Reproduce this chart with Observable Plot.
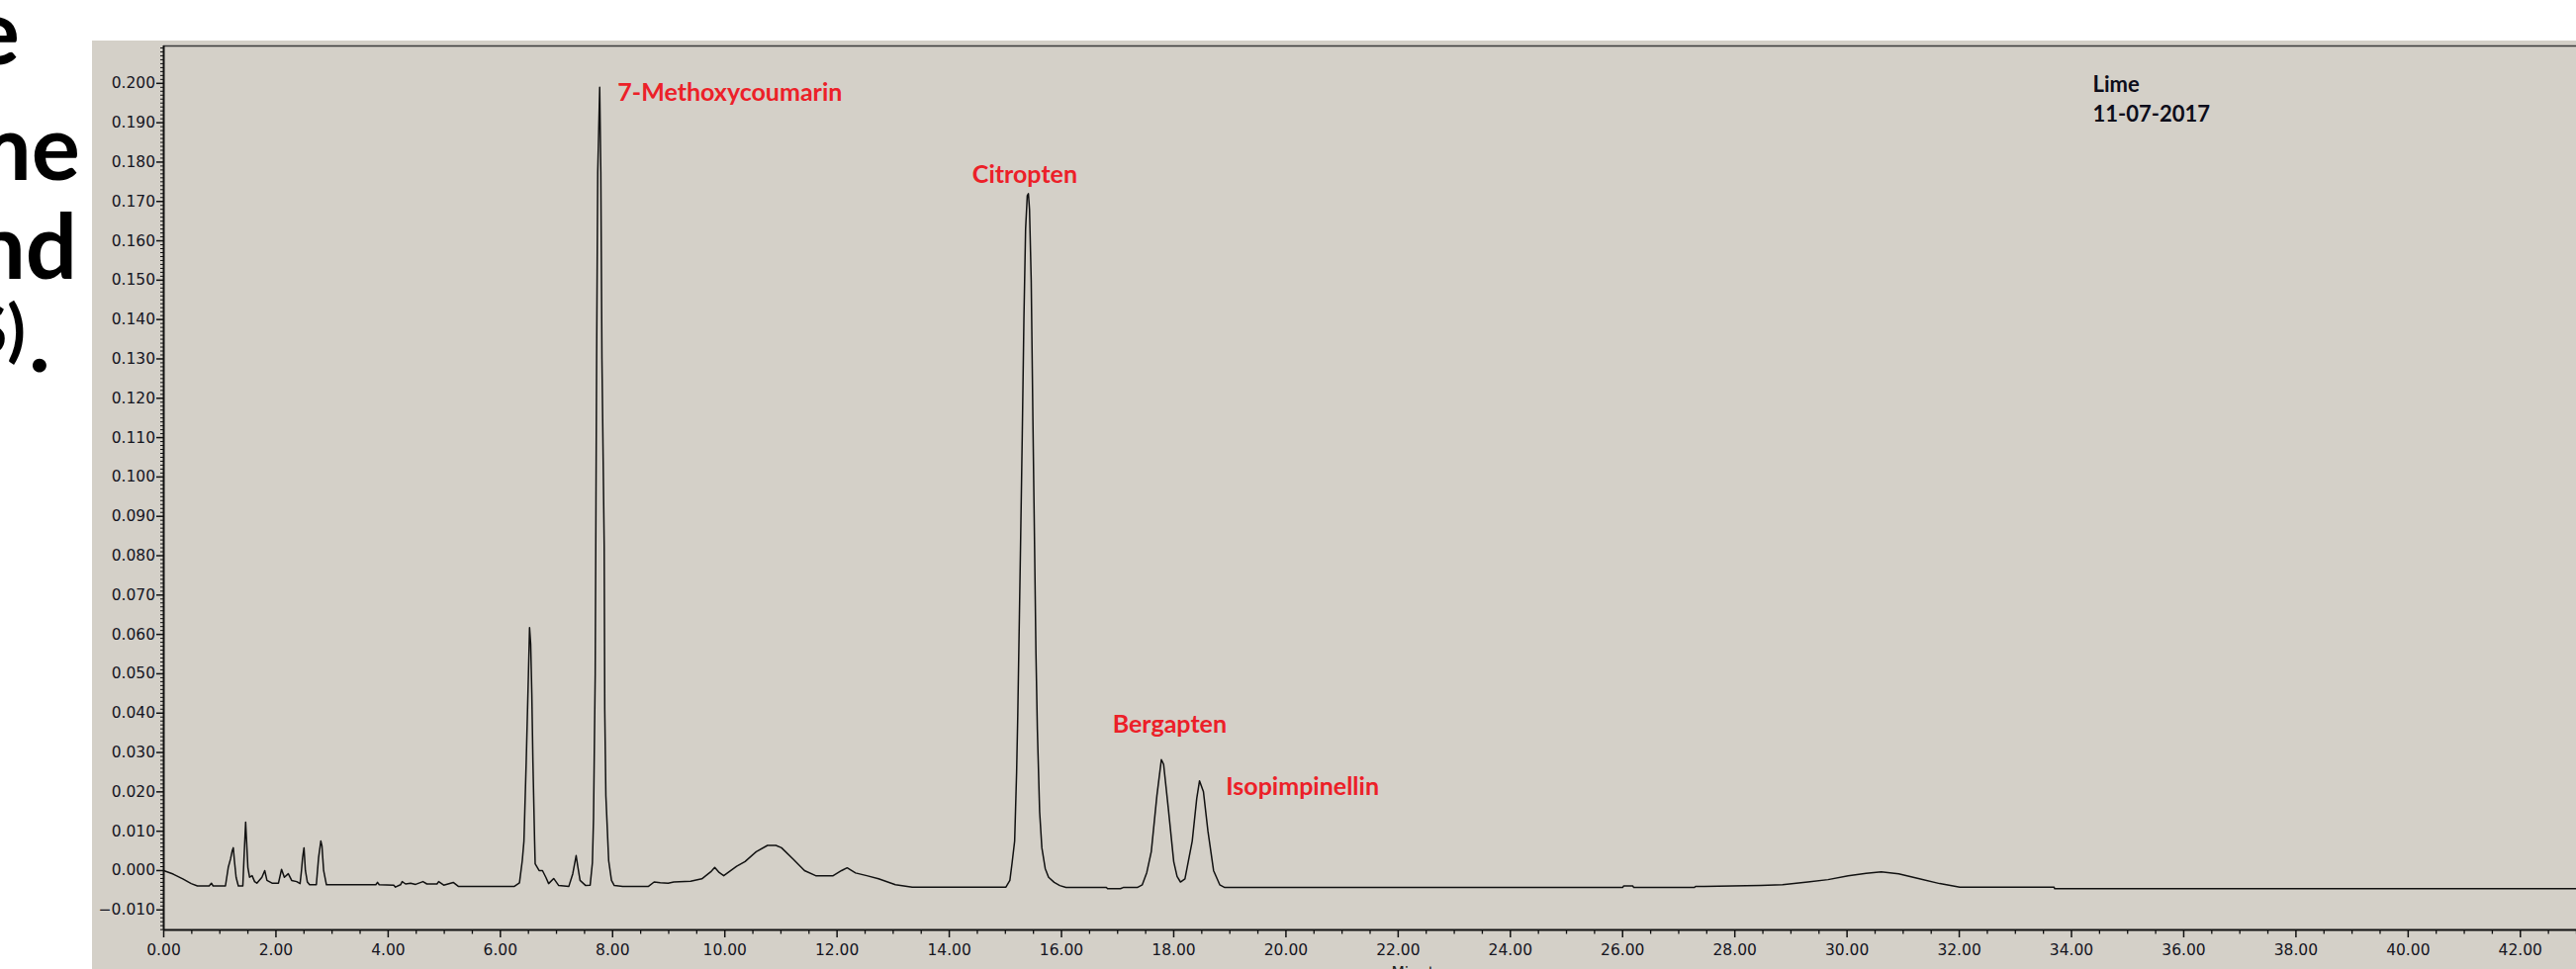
<!DOCTYPE html>
<html>
<head>
<meta charset="utf-8">
<script src="https://cdn.jsdelivr.net/npm/d3@7"></script>
<script src="https://cdn.jsdelivr.net/npm/@observablehq/plot@0.6"></script>
<style>
  html, body { margin: 0; padding: 0; background: #ffffff; width: 2604px; height: 980px; overflow: hidden; }
  #panel { position: absolute; left: 93px; top: 41px; width: 2511px; height: 939px; background: #d4d0c8; overflow: visible; }
  #overlay { position: absolute; left: 0; top: 0; pointer-events: none; }
</style>
</head>
<body>
<div id="panel"></div>
<svg id="overlay" width="2604" height="1000"></svg>
<script>
// ---- Chromatogram trace (retention time in minutes, absorbance in AU) ----
const times = [
  0.00, 0.17, 0.34, 0.49, 0.60, 0.81, 0.85, 0.88, 1.10, 1.15, 1.19, 1.22, 1.24, 1.26, 1.29, 1.33,
  1.41, 1.43, 1.46, 1.475, 1.50, 1.53, 1.575, 1.62, 1.66, 1.75, 1.80, 1.84, 1.93, 2.045, 2.10, 2.15,
  2.22, 2.28, 2.37, 2.43, 2.455, 2.475, 2.50, 2.525, 2.56, 2.60, 2.72, 2.76, 2.80, 2.82, 2.85, 2.90,
  3.78, 3.81, 3.84, 4.10, 4.13, 4.22, 4.25, 4.31, 4.40, 4.49, 4.62, 4.69, 4.87, 4.90, 4.99, 5.16, 5.25,
  6.25, 6.34, 6.39, 6.42, 6.46, 6.50, 6.52, 6.54, 6.56, 6.58, 6.61, 6.62, 6.69, 6.75, 6.81, 6.86, 6.95,
  7.04, 7.22, 7.29, 7.35, 7.38, 7.42, 7.52, 7.60, 7.64, 7.66, 7.69, 7.70, 7.715, 7.735, 7.77, 7.79,
  7.81, 7.85, 7.86, 7.88, 7.93, 7.98, 8.03, 8.18, 8.64, 8.74, 8.85, 8.99, 9.09, 9.39, 9.59, 9.75,
  9.82, 9.90, 9.98, 10.21, 10.36, 10.56, 10.76, 10.91, 11.01, 11.22, 11.42, 11.62, 11.93, 12.08, 12.18,
  12.33, 12.53, 12.74, 13.04, 13.34, 15.01, 15.08, 15.12, 15.165, 15.20, 15.22, 15.25, 15.27, 15.30,
  15.33, 15.36, 15.39, 15.41, 15.43, 15.46, 15.49, 15.52, 15.545, 15.57, 15.61, 15.65, 15.71, 15.77,
  15.87, 15.97, 16.08, 16.80, 16.82, 17.05, 17.10, 17.35, 17.44, 17.52, 17.60, 17.70, 17.78, 17.82,
  17.90, 18.00, 18.06, 18.12, 18.20, 18.33, 18.41, 18.46, 18.53, 18.61, 18.71, 18.82, 18.91, 26.00,
  26.02, 26.18, 26.20, 27.28, 27.30, 27.45, 28.46, 28.85, 29.30, 29.66, 30.02, 30.34, 30.61, 30.92,
  31.29, 31.65, 32.01, 33.69, 33.70, 34.30, 43.00
];
const absorbance = [
  0.0000, -0.0009, -0.0021, -0.0033, -0.0039, -0.0039, -0.0032, -0.0039, -0.0039, 0.0008, 0.0029, 0.0050, 0.0058, 0.0025, -0.0017, -0.0039,
  -0.0039, 0.0029, 0.0123, 0.0080, 0.0008, -0.0017, -0.0013, -0.0028, -0.0032, -0.0017, 0.0000, -0.0025, -0.0032, -0.0032, 0.0003, -0.0017,
  -0.0008, -0.0025, -0.0028, -0.0033, 0.0000, 0.0033, 0.0058, 0.0000, -0.0029, -0.0036, -0.0036, 0.0033, 0.0075, 0.0063, 0.0000, -0.0036,
  -0.0036, -0.0030, -0.0036, -0.0037, -0.0042, -0.0036, -0.0028, -0.0034, -0.0032, -0.0035, -0.0028, -0.0034, -0.0034, -0.0028, -0.0037, -0.0030, -0.0040,
  -0.0040, -0.0031, 0.0025, 0.0075, 0.0275, 0.0500, 0.0617, 0.0576, 0.0450, 0.0275, 0.0075, 0.0017, 0.0000, 0.0000, -0.0017, -0.0033, -0.0020,
  -0.0038, -0.0040, -0.0008, 0.0038, 0.0010, -0.0025, -0.0038, -0.0037, 0.0020, 0.0133, 0.0500, 0.0825, 0.1300, 0.1775, 0.1990, 0.1775,
  0.1300, 0.0825, 0.0410, 0.0190, 0.0025, -0.0025, -0.0038, -0.0040, -0.0040, -0.0029, -0.0031, -0.0032, -0.0029, -0.0027, -0.0021, -0.0003,
  0.0008, -0.0005, -0.0013, 0.0011, 0.0023, 0.0048, 0.0064, 0.0064, 0.0058, 0.0029, 0.0000, -0.0013, -0.0013, 0.0000, 0.0007,
  -0.0006, -0.0013, -0.0021, -0.0036, -0.0042, -0.0042, -0.0025, 0.0020, 0.0075, 0.0250, 0.0390, 0.0650, 0.0825, 0.1100,
  0.1400, 0.1630, 0.1715, 0.1720, 0.1680, 0.1500, 0.1150, 0.0825, 0.0550, 0.0358, 0.0150, 0.0058, 0.0005, -0.0017,
  -0.0030, -0.0038, -0.0043, -0.0043, -0.0046, -0.0046, -0.0043, -0.0043, -0.0036, -0.0005, 0.0048, 0.0190, 0.0282, 0.0270,
  0.0163, 0.0023, -0.0015, -0.0029, -0.0021, 0.0075, 0.0183, 0.0228, 0.0200, 0.0100, 0.0000, -0.0036, -0.0043, -0.0043,
  -0.0039, -0.0039, -0.0043, -0.0043, -0.0040, -0.0040, -0.0038, -0.0036, -0.0029, -0.0023, -0.0013, -0.0007, -0.0003, -0.0008,
  -0.0021, -0.0033, -0.0042, -0.0042, -0.0046, -0.0046, -0.0046
];

// ---- Peak annotations ----
const peakNames  = ["7-Methoxycoumarin", "Citropten", "Bergapten", "Isopimpinellin"];
const peakLabelX = [8.09, 14.41, 16.91, 18.93];
const peakLabelY = [0.1955, 0.1746, 0.0350, 0.0193];

// ---- Sample info ----
const infoLines = ["Lime", "11-07-2017"];
const infoX = [34.38, 34.38];
const infoY = [0.1979, 0.1904];

// ---- Axes ----
const xDomain = [0, 43];
const yDomain = [-0.01508, 0.2095];
const xTicks = [0, 2, 4, 6, 8, 10, 12, 14, 16, 18, 20, 22, 24, 26, 28, 30, 32, 34, 36, 38, 40, 42];
const yTicks = [-0.010, 0.000, 0.010, 0.020, 0.030, 0.040, 0.050, 0.060, 0.070, 0.080, 0.090, 0.100,
                0.110, 0.120, 0.130, 0.140, 0.150, 0.160, 0.170, 0.180, 0.190, 0.200];
const xMinorStep = 0.5;
const yMinorStep = 0.001;
const xAxisTitle = "Minutes";

// ---- Slide text fragments visible at the left edge ----
const slideFragments = ["e", "me", "nd", "S)", "."];

const trace = times.map((t, i) => ({t, v: absorbance[i]}));
const peaks = peakNames.map((name, i) => ({name, x: peakLabelX[i], y: peakLabelY[i]}));
const info = infoLines.map((txt, i) => ({txt, x: infoX[i], y: infoY[i]}));
const xMinor = d3.range(0, 43 + 1e-9, xMinorStep).filter(d => Math.abs(d / 2 - Math.round(d / 2)) > 1e-6);
const yMinor = d3.range(-0.015, 0.2095, yMinorStep).map(d => Math.round(d * 1000) / 1000)
  .filter(d => Math.abs(d * 100 - Math.round(d * 100)) > 1e-6 && d >= yDomain[0] && d <= yDomain[1]);

const chart = Plot.plot({
  width: 2511,
  height: 939,
  marginLeft: 72,
  marginRight: 0,
  marginTop: 5,
  marginBottom: 40,
  style: {background: "transparent", fontFamily: "'DejaVu Sans', sans-serif", fontSize: "15.5px", color: "#15151f", overflow: "visible"},
  x: {domain: xDomain, axis: null},
  y: {domain: yDomain, axis: null},
  marks: [
    Plot.axisY(yMinor, {anchor: "left", tickSize: 3, tickFormat: () => "", label: null, stroke: "#111", strokeWidth: 1}),
    Plot.axisY(yTicks, {anchor: "left", tickSize: 7, tickPadding: 1.5, tickFormat: d3.format(".3f"), label: null, stroke: "#111", strokeWidth: 1.5}),
    Plot.axisX(xMinor, {anchor: "bottom", tickSize: 4.5, tickFormat: () => "", label: null, stroke: "#111", strokeWidth: 1.3}),
    Plot.axisX(xTicks, {anchor: "bottom", tickSize: 8, tickPadding: 6.5, tickFormat: d3.format(".2f"), label: null, stroke: "#111", strokeWidth: 1.5}),
    Plot.ruleY([yDomain[1]], {stroke: "#3a3a3a", strokeWidth: 1.6}),
    Plot.ruleY([yDomain[0]], {stroke: "#111", strokeWidth: 2}),
    Plot.ruleX([xDomain[0]], {stroke: "#111", strokeWidth: 2}),
    Plot.line(trace, {x: "t", y: "v", stroke: "#111", strokeWidth: 1.5, curve: "linear"}),
    Plot.text(peaks, {x: "x", y: "y", text: "name", fill: "#ec2028", fontFamily: "Lato, sans-serif", fontWeight: "bold", fontSize: 25, textAnchor: "start", lineAnchor: "bottom"}),
    Plot.text(info, {x: "x", y: "y", text: "txt", fill: "#0d0d1a", fontFamily: "Lato, sans-serif", fontWeight: "bold", fontSize: 22, textAnchor: "start", lineAnchor: "bottom"})
  ]
});
document.getElementById("panel").appendChild(chart);

// overlay: clipped slide text on the left, axis title cut at the bottom edge
const ov = d3.select("#overlay");
const slide = ov.append("g").attr("font-family", "Lato, sans-serif").attr("font-weight", "bold").attr("fill", "#000");
slide.append("text").attr("x", 20).attr("y", 65).attr("text-anchor", "end").attr("font-size", 92).text(slideFragments[0]);
slide.append("text").attr("x", 81).attr("y", 182).attr("text-anchor", "end").attr("font-size", 92).text(slideFragments[1]);
slide.append("text").attr("x", 78).attr("y", 282).attr("text-anchor", "end").attr("font-size", 92).text(slideFragments[2]);
slide.append("text").attr("x", 26).attr("y", 358).attr("text-anchor", "end").attr("font-size", 68).text(slideFragments[3]);
slide.append("text").attr("x", 29).attr("y", 376).attr("text-anchor", "start").attr("font-size", 92).text(slideFragments[4]);
ov.append("text").attr("x", 1437).attr("y", 989).attr("text-anchor", "middle")
  .attr("font-family", "'DejaVu Sans', sans-serif").attr("font-size", 15.5).attr("fill", "#1c1c1c").text(xAxisTitle);
</script>
</body>
</html>
